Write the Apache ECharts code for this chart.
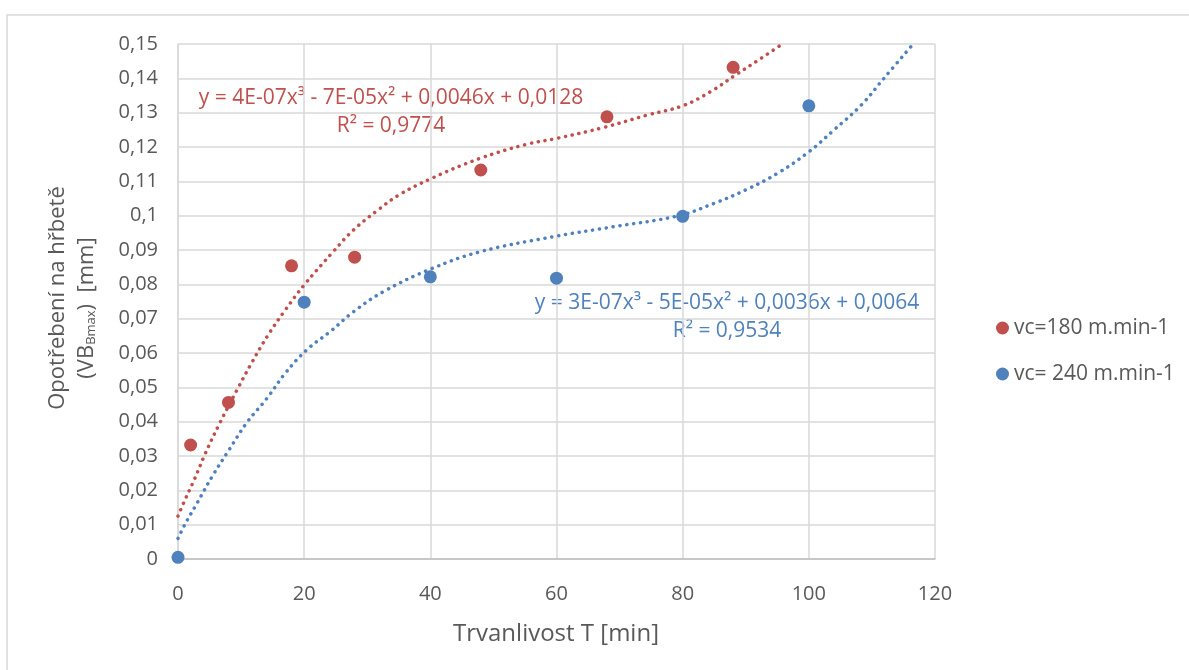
<!DOCTYPE html>
<html>
<head>
<meta charset="utf-8">
<script src="https://cdn.jsdelivr.net/npm/echarts@6/dist/echarts.min.js"></script>
<style>
  html, body { margin: 0; padding: 0; background: #fff; }
  #main { width: 1189px; height: 670px; }
</style>
</head>
<body>
<div id="main"></div>
<script>
// měřené body
let red_x = [2, 8, 18, 28, 48, 68, 88];
let red_y = [0.0332, 0.0456, 0.0854, 0.0879, 0.1133, 0.1288, 0.1432];
let blue_x = [0, 20, 40, 60, 80, 100];
let blue_y = [0.0005, 0.0748, 0.0822, 0.0818, 0.0998, 0.132];

// spojnice trendu
let redTrend_x = [0, 1, 2.6, 4.3, 6.6, 9.4, 11.7, 14.2, 17, 20, 24.6, 27.8, 31.8, 35, 40, 47.9, 55.3, 60, 67.5, 74.4, 80, 84.4, 88.4, 92.4, 95.8];
let redTrend_y = [0.0125, 0.0168, 0.0232, 0.0306, 0.0395, 0.0494, 0.0572, 0.065, 0.0725, 0.0798, 0.0895, 0.0958, 0.1018, 0.106, 0.1107, 0.1167, 0.1208, 0.1225, 0.1257, 0.1293, 0.132, 0.1361, 0.141, 0.1458, 0.150];
let blueTrend_x = [0, 1.1, 3, 5.5, 8.1, 10.9, 14.1, 17, 20.4, 24.1, 27.8, 32.6, 40, 47.9, 59.6, 69.1, 79.4, 85, 90, 95, 100, 104, 108.3, 111.9, 116.4];
let blueTrend_y = [0.006, 0.0101, 0.0162, 0.0243, 0.0318, 0.0397, 0.0468, 0.0541, 0.0609, 0.0662, 0.072, 0.0779, 0.0844, 0.0895, 0.0939, 0.0968, 0.1, 0.1036, 0.1075, 0.1123, 0.1186, 0.125, 0.1322, 0.14, 0.1497];

let redName = 'vc=180 m.min-1';
let blueName = 'vc= 240 m.min-1';
let redEq = 'y = 4E-07x³ - 7E-05x² + 0,0046x + 0,0128';
let redR2 = 'R² = 0,9774';
let blueEq = 'y = 3E-07x³ - 5E-05x² + 0,0036x + 0,0064';
let blueR2 = 'R² = 0,9534';

let RED = '#c0504d', BLUE = '#4f81bd', FONT = 'Open Sans', GREY = '#595959';

function pairs(xs, ys) {
    return xs.map(function (x, i) { return [x, ys[i]]; });
}

let myChart = echarts.init(document.getElementById('main'));

let trendStyle = function (c) {
    return { color: c, width: 3.5, type: [0.1, 6.8], cap: 'round' };
};

let option = {
    backgroundColor: '#fff',
    animation: false,
    textStyle: { fontFamily: FONT },
    grid: { left: 178, right: 254, top: 44, bottom: 111 },
    legend: {
        orient: 'vertical',
        left: 991,
        top: 311,
        itemWidth: 13,
        itemHeight: 13,
        itemGap: 22,
        icon: 'circle',
        data: [redName, blueName],
        textStyle: { fontSize: 21, color: GREY, fontFamily: FONT, lineHeight: 24 }
    },
    xAxis: {
        type: 'value',
        min: 0, max: 120, interval: 20,
        axisLine: { show: true, lineStyle: { color: '#bfbfbf', width: 1.5 } },
        axisTick: { show: false },
        axisLabel: { fontSize: 20, color: GREY, margin: 25 },
        splitLine: { lineStyle: { color: '#d9d9d9', width: 1.5 } }
    },
    yAxis: {
        type: 'value',
        min: 0, max: 0.15, interval: 0.01,
        axisLine: { show: true, lineStyle: { color: '#d9d9d9', width: 1.5 } },
        axisTick: { show: false },
        axisLabel: {
            fontSize: 20, color: GREY, margin: 20,
            formatter: function (v) { return String(+v.toFixed(2)).replace('.', ','); }
        },
        splitLine: { lineStyle: { color: '#d9d9d9', width: 1.5 } }
    },
    graphic: [
        { type: 'rect', shape: { x: 7, y: 15, width: 1300, height: 800 }, style: { fill: null, stroke: '#d9d9d9', lineWidth: 1.5 }, silent: true, z: -1 },
        { type: 'text', x: 58, y: 298, rotation: Math.PI / 2,
          style: { text: 'Opotřebení na hřbetě', fontSize: 22, fill: GREY, fontFamily: FONT, align: 'center', verticalAlign: 'middle' } },
        { type: 'text', x: 87, y: 308, rotation: Math.PI / 2,
          style: { text: '(VB{sub|Bmax})  [mm]', fontSize: 22, fill: GREY, fontFamily: FONT, align: 'center', verticalAlign: 'middle',
                   rich: { sub: { fontSize: 13, fill: GREY, fontFamily: FONT, verticalAlign: 'bottom', padding: [9, 0, 0, 0] } } } },
        { type: 'text', x: 556, y: 634,
          style: { text: 'Trvanlivost T [min]', fontSize: 24, fill: GREY, fontFamily: FONT, align: 'center', verticalAlign: 'middle' } },
        { type: 'text', x: 391, y: 98,
          style: { text: redEq, fontSize: 21, fill: RED, fontFamily: FONT, align: 'center', verticalAlign: 'middle' } },
        { type: 'text', x: 391, y: 126,
          style: { text: redR2, fontSize: 21, fill: RED, fontFamily: FONT, align: 'center', verticalAlign: 'middle' } },
        { type: 'text', x: 727, y: 303,
          style: { text: blueEq, fontSize: 21, fill: BLUE, fontFamily: FONT, align: 'center', verticalAlign: 'middle' } },
        { type: 'text', x: 727, y: 331,
          style: { text: blueR2, fontSize: 21, fill: BLUE, fontFamily: FONT, align: 'center', verticalAlign: 'middle' } }
    ],
    series: [
        {
            name: 'trend180', type: 'line', smooth: 0.4, showSymbol: false, symbol: 'none',
            data: pairs(redTrend_x, redTrend_y), lineStyle: trendStyle(RED), itemStyle: { color: RED }, z: 2
        },
        {
            name: 'trend240', type: 'line', smooth: 0.4, showSymbol: false, symbol: 'none',
            data: pairs(blueTrend_x, blueTrend_y), lineStyle: trendStyle(BLUE), itemStyle: { color: BLUE }, z: 2
        },
        {
            name: redName, type: 'scatter', symbolSize: 13,
            data: pairs(red_x, red_y), itemStyle: { color: RED, opacity: 1 }, z: 3
        },
        {
            name: blueName, type: 'scatter', symbolSize: 13,
            data: pairs(blue_x, blue_y), itemStyle: { color: BLUE, opacity: 1 }, z: 3
        }
    ]
};

myChart.setOption(option);
</script>
</body>
</html>
